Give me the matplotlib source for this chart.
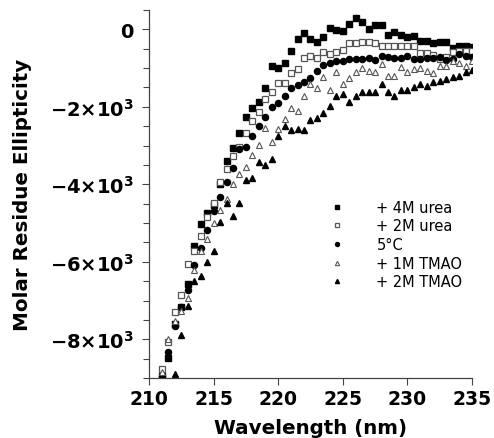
import numpy as np
import matplotlib
matplotlib.use("Agg")
import matplotlib.pyplot as plt
from matplotlib.ticker import MultipleLocator, FuncFormatter

plt.rcParams["mathtext.fontset"] = "dejavusans"
plt.rcParams["mathtext.default"] = "bf"

# wavelengths (nm), 0.5 nm steps
wl = np.arange(211, 235.01, 0.5)
wl_tmao2 = np.arange(212, 235.01, 0.5)

urea4 = [-8950, -8490, -7610, -7170, -6580, -5600, -5030, -4750, -4540, -4000,
         -3410, -3070, -2680, -2270, -2040, -1880, -1520, -955, -1005, -877,
         -568, -258, -103, -258, -335, -206, 26, -26, -52, 129,
         284, 181, 0, 103, 103, -155, -77, -155, -206, -181,
         -310, -310, -361, -335, -335, -490, -439, -439, -464]

urea2 = [-8770, -8075, -7300, -6860, -6060, -5730, -5340, -4850, -4490, -3950,
         -3610, -3280, -3040, -2680, -2370, -2140, -1810, -1625, -1390, -1390,
         -1135, -1030, -748, -697, -748, -593, -645, -593, -542, -361,
         -361, -335, -335, -361, -439, -439, -439, -439, -439, -439,
         -619, -619, -671, -774, -722, -593, -568, -568, -568]

c5 = [-8950, -8330, -7660, -7170, -6730, -6090, -5650, -5190, -4700, -4330,
      -3950, -3590, -3100, -3040, -2760, -2500, -2270, -2010, -1910, -1730,
      -1520, -1445, -1367, -1264, -1084, -929, -877, -826, -826, -774,
      -774, -774, -748, -800, -697, -722, -748, -748, -697, -774,
      -774, -748, -748, -722, -800, -774, -645, -697, -722]

tmao1 = [-8850, -8000, -7530, -7280, -6940, -6220, -5730, -5420, -5000, -4670,
         -4390, -4000, -3740, -3560, -3250, -2990, -2550, -2915, -2580, -2320,
         -2040, -2120, -1730, -1420, -1520, -1240, -1570, -1110, -1420, -1264,
         -1110, -1006, -1084, -1110, -903, -1213, -1213, -980, -1110, -1032,
         -1006, -1084, -1135, -955, -955, -826, -877, -955, -826]

tmao2 = [-8900, -7900, -7150, -6500, -6370, -6010, -5730, -4980, -4490, -4825,
         -4490, -3900, -3840, -3430, -3510, -3350, -2760, -2500, -2606, -2580,
         -2606, -2350, -2300, -2170, -1990, -1730, -1680, -1880, -1730, -1625,
         -1625, -1625, -1420, -1625, -1730, -1574, -1574, -1496, -1420, -1471,
         -1367, -1342, -1290, -1238, -1213, -1109, -1058]

labels = ["+ 4M urea", "+ 2M urea", "5°C", "+ 1M TMAO", "+ 2M TMAO"]

fig = plt.figure(figsize=(4.94, 4.39), dpi=100)
ax = fig.add_axes([0.3016, 0.1367, 0.6538, 0.8383])

gray = "#555555"
ax.plot(wl, urea4, "s", color="black", ms=4.3, mec="black", label=labels[0])
ax.plot(wl, urea2, "s", mfc="white", mec=gray, mew=0.9, ms=4.6, label=labels[1])
ax.plot(wl, c5, "o", color="black", ms=4.4, label=labels[2])
ax.plot(wl, tmao1, "^", mfc="white", mec=gray, mew=0.8, ms=4.8, label=labels[3])
ax.plot(wl_tmao2, tmao2, "^", color="black", ms=4.6, label=labels[4])

ax.set_xlim(210, 235)
ax.set_ylim(-9000, 500)

ax.xaxis.set_major_locator(MultipleLocator(5))
ax.yaxis.set_major_locator(MultipleLocator(2000))
ax.yaxis.set_minor_locator(MultipleLocator(500))


def fmt(v, pos):
    if v == 0:
        return "0"
    return r"$-%d{\times}10^{3}$" % int(round(abs(v) / 1000))


ax.yaxis.set_major_formatter(FuncFormatter(fmt))

for s in ["top", "right"]:
    ax.spines[s].set_visible(False)
for s in ["left", "bottom"]:
    ax.spines[s].set_color("#444444")
    ax.spines[s].set_linewidth(0.9)

ax.tick_params(axis="both", which="major", length=5, width=0.8, color="#444444")
ax.tick_params(axis="x", which="major", labelsize=13.5, pad=3)
ax.tick_params(axis="y", which="major", labelsize=14, pad=6)
ax.tick_params(axis="y", which="minor", length=4, width=0.8, color="#444444")
for t in ax.get_xticklabels() + ax.get_yticklabels():
    t.set_fontweight("bold")

ax.set_xlabel("Wavelength (nm)", fontsize=14.3, fontweight="bold", labelpad=7)
ax.set_ylabel("Molar Residue Ellipticity", fontsize=14.3, fontweight="bold", labelpad=13)

ax.legend(loc="upper left", bbox_to_anchor=(0.519, 0.52), frameon=False,
          fontsize=10.5, markerscale=0.65, handletextpad=2.2, labelspacing=0.25,
          handlelength=1.0)

fig.savefig("out.png", dpi=100)
